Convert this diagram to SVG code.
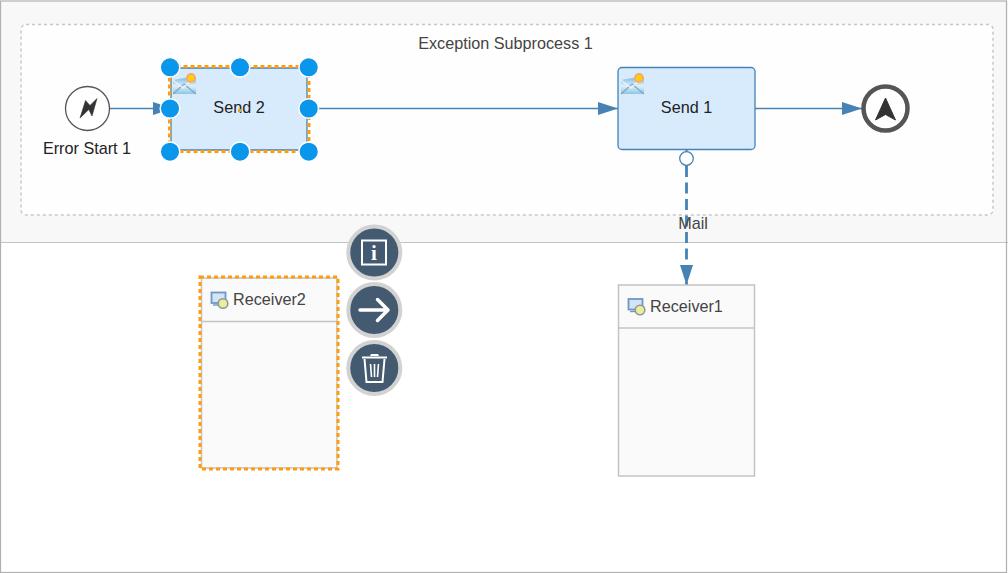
<svg xmlns="http://www.w3.org/2000/svg" width="1008" height="573" viewBox="0 0 1008 573">
<defs>
<marker id="arr" markerUnits="userSpaceOnUse" markerWidth="20" markerHeight="16" refX="20" refY="8" orient="auto"><path d="M0 1.500L20 8L0 14.500Z" fill="#4682b4"/></marker>
<linearGradient id="env" x1="0" y1="0" x2="0" y2="1"><stop offset="0" stop-color="#6fb2dc"/><stop offset="0.55" stop-color="#dff0fa"/><stop offset="1" stop-color="#8fc4e4"/></linearGradient>
<g id="mail"><path d="M0 5L23 1V19H0Z" fill="url(#env)"/><path d="M0 19L11 9L23 19" fill="none" stroke="#7fa6bd" stroke-width="1.200"/><path d="M0 5L10 13L23 1" fill="none" stroke="#e8f4fb" stroke-width="1.200"/><circle cx="18" cy="3" r="5" fill="#f9a86a"/><circle cx="18" cy="3" r="3" fill="#ffd400"/></g>
<g id="recv"><rect x="0.500" y="0.500" width="14" height="10.500" fill="#d5e4f3" stroke="#6f97c6" stroke-width="1.800"/><path d="M2 13H10" stroke="#6f97c6" stroke-width="1.400"/><circle cx="12" cy="11.500" r="4.800" fill="#ecec9a" stroke="#8a9a9a" stroke-width="1.600"/></g>
</defs>
<style>
text{font-family:"Liberation Sans",Arial,sans-serif;font-size:16.200px}
.dark{fill:#222}
.mid{fill:#444}
.task{fill:#d7ebfd;stroke:#4682b4;stroke-width:1.300}
.lane{fill:#fafafa;stroke:#c4c4c4;stroke-width:1.500}
.sel{fill:none;stroke:#ff9d0a;stroke-width:3;stroke-dasharray:4 3}
.h{fill:#0a96ea;stroke:#fff;stroke-width:1.500}
.flow{fill:none;stroke:#4682b4;stroke-width:1.400}
.btn{fill:#435a70;stroke:#d2d2d2;stroke-width:4}
.ico{fill:none;stroke:#fff;stroke-width:2}
</style>
<rect x="0" y="0" width="1008" height="573" fill="#fff"/>
<rect x="0.500" y="1.500" width="1007" height="241" fill="#f8f8f8"/>
<path d="M0 242.500H1008" stroke="#c4c4c4" stroke-width="1.200"/>
<rect x="0.500" y="1" width="1006" height="571.500" fill="none" stroke="#b0b0b0" stroke-width="1.200"/>
<g id="subprocess"><rect x="21" y="24.500" width="972" height="190.500" rx="5" fill="#fefefe" stroke="#c8c8c8" stroke-width="1.500" stroke-dasharray="3 3"/><text class="mid" x="505.500" y="48.500" text-anchor="middle">Exception Subprocess 1</text></g>
<g id="connectors">
<path class="flow" d="M110 108.500H173" marker-end="url(#arr)"/>
<path class="flow" d="M308 108.500H618" marker-end="url(#arr)"/>
<path class="flow" d="M755 108.500H862" marker-end="url(#arr)"/>
<path d="M686.500 150V166" fill="none" stroke="#4682b4" stroke-width="2"/>
<path d="M686.500 166V285" fill="none" stroke="#4682b4" stroke-width="2.800" stroke-dasharray="11 5.500" marker-end="url(#arr)"/>
<circle cx="686.500" cy="158.500" r="6.800" fill="#fff" stroke="#4682b4" stroke-width="1.300"/>
<text class="mid" x="693" y="228.500" text-anchor="middle">Mail</text>
</g>
<g id="start"><circle cx="87.500" cy="108.500" r="22" fill="#fff" stroke="#555" stroke-width="1.300"/><path d="M80 118L85.500 100.500L90 105.500L97 98.500L92 116L88.800 109.500Z" fill="#333" stroke="#333" stroke-width="0.600" stroke-linejoin="round"/><text class="dark" x="87" y="154" text-anchor="middle">Error Start 1</text></g>
<g id="send2"><rect class="task" x="171" y="68" width="136" height="82" rx="3"/><rect class="sel" x="169.500" y="66.500" width="139.500" height="85"/><use href="#mail" x="173" y="75"/><text class="dark" x="239" y="113" text-anchor="middle">Send 2</text><rect x="238" y="109" width="3" height="3" fill="#ff9d0a"/>
<circle class="h" cx="170" cy="67.300" r="9.800"/><circle class="h" cx="240" cy="67.300" r="9.800"/><circle class="h" cx="308.700" cy="67.300" r="9.800"/><circle class="h" cx="170" cy="108.500" r="9.800"/><circle class="h" cx="308.700" cy="108.500" r="9.800"/><circle class="h" cx="170" cy="151.700" r="9.800"/><circle class="h" cx="240" cy="151.700" r="9.800"/><circle class="h" cx="308.700" cy="151.700" r="9.800"/></g>
<g id="send1"><rect class="task" x="618" y="67.500" width="137" height="82" rx="4"/><use href="#mail" x="621" y="75"/><text class="dark" x="686.500" y="113" text-anchor="middle">Send 1</text></g>
<g id="end"><circle cx="885.500" cy="108.500" r="22" fill="#fff" stroke="#555" stroke-width="4.500"/><path d="M885.500 98L895.500 120L885.500 114.500L875.500 120Z" fill="#333" stroke="#333" stroke-width="1" stroke-linejoin="round"/></g>
<g id="receiver2"><rect class="lane" x="201.500" y="278" width="135.500" height="190"/><path d="M201.500 321.500H337" stroke="#c4c4c4" stroke-width="1.500"/><rect class="sel" x="200" y="277" width="138" height="192"/><use href="#recv" x="211" y="292"/><text class="mid" x="233" y="305">Receiver2</text></g>
<g id="receiver1"><rect class="lane" x="618.500" y="285" width="136" height="191"/><path d="M618.500 328H754.500" stroke="#c4c4c4" stroke-width="1.500"/><use href="#recv" x="628" y="298.500"/><text class="mid" x="650" y="312">Receiver1</text></g>
<g id="btn-info"><circle class="btn" cx="374.300" cy="252.500" r="26"/><rect class="ico" x="362" y="240.500" width="24" height="24"/><text x="374" y="260" text-anchor="middle" style="font-family:'Liberation Serif',serif;font-weight:bold;font-size:21px;fill:#fff">i</text></g>
<g id="btn-arrow"><circle class="btn" cx="374.300" cy="310" r="26"/><path d="M360 310H387M377.500 299.500L388 310L377.500 320.500" fill="none" stroke="#fff" stroke-width="3.500" stroke-linecap="round" stroke-linejoin="round"/></g>
<g id="btn-delete"><circle class="btn" cx="374.300" cy="368" r="26"/><path d="M362 357.500H387" class="ico"/><path d="M370 356L371 354H378L379 356Z" fill="#fff"/><path d="M364.500 359L366.500 382H382.500L384.500 359" class="ico"/><path d="M370.500 364L371.500 377M374.500 364V377M378.500 364L377.500 377" class="ico" style="stroke-width:1.600"/></g>
</svg>
